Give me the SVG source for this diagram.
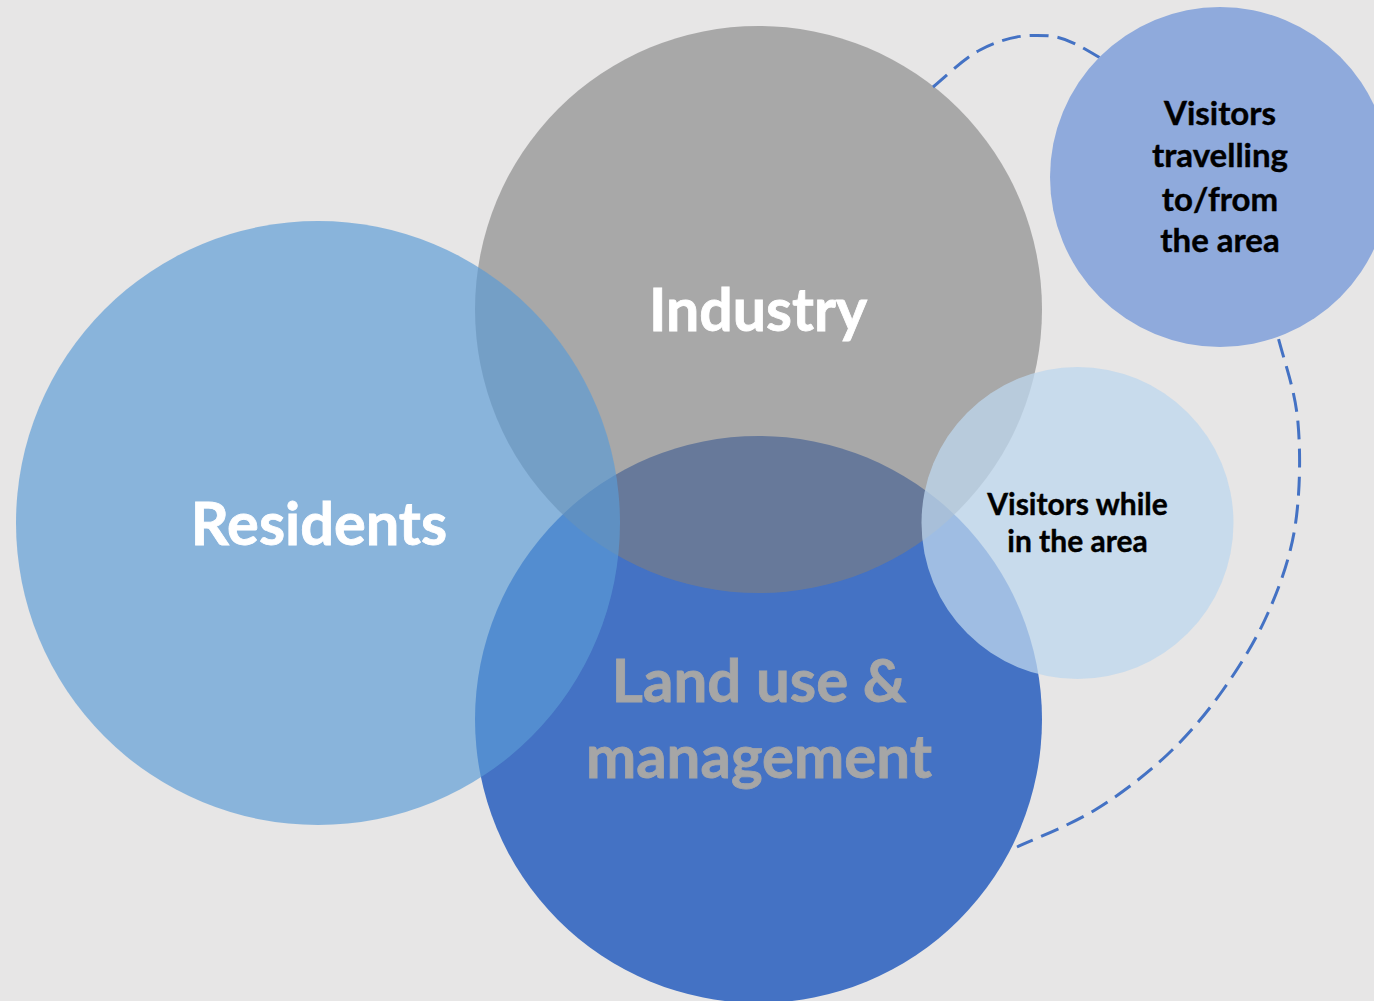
<svg xmlns="http://www.w3.org/2000/svg" width="1374" height="1001" viewBox="0 0 1374 1001">
  <style>
    .lbl { font-family: Lato, "Open Sans", "Liberation Sans", sans-serif; font-weight: 700; text-anchor: middle; }
    .white { fill: #FFFFFF; stroke: #FFFFFF; stroke-width: 0.8; }
    .grey { fill: #A6A6A6; stroke: #A6A6A6; stroke-width: 0.8; }
    .dark { fill: #000000; stroke: #000000; stroke-width: 0.4; }
    .link { fill: none; stroke: #4472C4; stroke-width: 3; stroke-dasharray: 19 9; }
  </style>

  <!-- page background -->
  <rect width="1374" height="1001" fill="#E7E6E6"/>

  <!-- Land use & management (base layer, opaque) -->
  <g id="land-use">
    <circle cx="758.5" cy="719.5" r="283.5" fill="#4472C4"/>
    <text class="lbl grey" font-size="60" x="759" y="702">Land use &amp;</text>
    <text class="lbl grey" font-size="60" x="759" y="778">management</text>
  </g>

  <!-- Industry (translucent grey over land use) -->
  <g id="industry">
    <circle cx="758.5" cy="309.5" r="283.5" fill="#7F7F7F" fill-opacity="0.6"/>
    <text class="lbl white" font-size="59" x="758" y="331">Industry</text>
  </g>

  <!-- Residents (translucent blue) -->
  <g id="residents">
    <circle cx="318" cy="523" r="302" fill="#5B9BD5" fill-opacity="0.67"/>
    <text class="lbl white" font-size="59.5" x="319" y="545">Residents</text>
  </g>

  <!-- Visitors while in the area -->
  <g id="visitors-local">
    <circle cx="1077.5" cy="523" r="156" fill="#BDD7EE" fill-opacity="0.75"/>
    <text class="lbl dark" font-size="30" x="1077.5" y="515">Visitors while</text>
    <text class="lbl dark" font-size="30" x="1077.5" y="552">in the area</text>
  </g>

  <!-- dashed loop linking the visitor groups -->
  <g id="connectors">
    <path class="link" d="M 933 87 C 940.8 80.8, 963.5 58.6, 980 50 C 996.5 41.4, 1014.5 35.7, 1032 35.5 C 1049.5 35.3, 1060.3 34.9, 1085 49 C 1109.7 63.1, 1153.3 90.7, 1180 120 C 1206.7 149.3, 1228.7 188.8, 1245 225 C 1261.3 261.2, 1269.2 304, 1278 337 C 1286.8 370, 1295.2 391.3, 1298 423 C 1300.8 454.7, 1300 495.3, 1295 527 C 1290 558.3, 1280 585.8, 1268 613 C 1256 640.2, 1239.8 666.3, 1223 690 C 1206.2 713.7, 1188.3 735, 1167 755 C 1145.7 775, 1120 794.7, 1095 810 C 1070 825.3, 1030 840.8, 1017 847"/>
  </g>

  <!-- Visitors travelling to/from the area -->
  <g id="visitors-travel">
    <circle cx="1220" cy="177" r="170" fill="#8FAADC"/>
    <text class="lbl dark" font-size="33" x="1220" y="125">Visitors</text>
    <text class="lbl dark" font-size="33" x="1220" y="167">travelling</text>
    <text class="lbl dark" font-size="33" x="1220" y="211">to/from</text>
    <text class="lbl dark" font-size="33" x="1220" y="252">the area</text>
  </g>
</svg>
